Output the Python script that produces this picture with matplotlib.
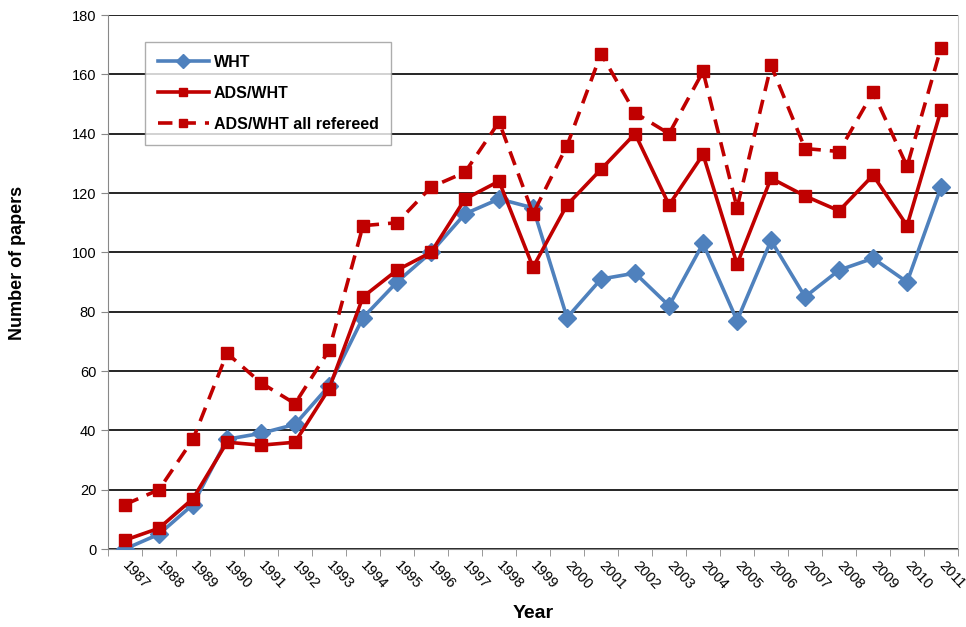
import numpy as np
import matplotlib
matplotlib.use('Agg')
import matplotlib.pyplot as plt

plt.rcParams['font.family'] = ['Liberation Sans', 'DejaVu Sans']

years = [str(y) for y in range(1987, 2012)]
wht = [0, 5, 15, 37, 39, 42, 55, 78, 90, 100, 113, 118, 115,
       78, 91, 93, 82, 103, 77, 104, 85, 94, 98, 90, 122]
ads_wht = [3, 7, 17, 36, 35, 36, 54, 85, 94, 100, 118, 124, 95,
           116, 128, 140, 116, 133, 96, 125, 119, 114, 126, 109, 148]
ads_wht_ref = [15, 20, 37, 66, 56, 49, 67, 109, 110, 122, 127, 144, 113,
               136, 167, 147, 140, 161, 115, 163, 135, 134, 154, 129, 169]

blue = '#4F81BD'
red = '#C00000'

fig = plt.figure(figsize=(9.66, 6.27), dpi=100)
ax = fig.add_axes([0.1118, 0.1244, 0.88, 0.8516])

x = np.arange(len(years))
ax.plot(x, wht, '-D', color=blue, linewidth=2.6, markersize=9,
        label='WHT', zorder=3)
ax.plot(x, ads_wht, '-s', color=red, linewidth=2.6, markersize=8,
        label='ADS/WHT', zorder=4)
ax.plot(x, ads_wht_ref, '--s', color=red, linewidth=2.6, markersize=8,
        dashes=(4, 2.5), label='ADS/WHT all refereed', zorder=4)

ax.set_xlim(-0.5, len(years) - 0.5)
ax.set_ylim(0, 180)
ax.set_yticks(np.arange(0, 181, 20))
ax.yaxis.grid(True, color='black', linewidth=1.2)
ax.set_axisbelow(True)

ax.set_xticks(x)
ax.set_xticklabels(years, rotation=-47, ha='left', va='center',
                   rotation_mode='anchor', fontsize=10.5)
ax.set_xticks(np.arange(-0.5, len(years), 1.0), minor=True)
ax.tick_params(axis='x', which='major', length=0, pad=10)
ax.tick_params(axis='x', which='minor', length=5, color='#888888')
ax.tick_params(axis='y', length=5, color='#888888', labelsize=10.5)

ax.spines['top'].set_visible(False)
ax.spines['right'].set_color('#cccccc')
ax.spines['left'].set_color('#888888')
ax.spines['bottom'].set_color('#888888')

ax.set_xlabel('Year', fontsize=14, fontweight='bold')
ax.xaxis.set_label_coords(0.5, -0.104)
ax.set_ylabel('Number of papers', fontsize=13, fontweight='bold')
ax.yaxis.set_label_coords(-0.097, 0.536)

leg = ax.legend(loc='upper left', bbox_to_anchor=(0.0435, 0.949), fontsize=11.5,
                frameon=True, fancybox=False, edgecolor='#999999',
                handlelength=3.2, labelspacing=1.0, borderpad=0.8,
                handletextpad=0.3, borderaxespad=0, markerscale=0.75)
leg.get_frame().set_linewidth(1.0)
for t in leg.get_texts():
    t.set_fontweight('bold')

fig.savefig('out.png', dpi=100)
